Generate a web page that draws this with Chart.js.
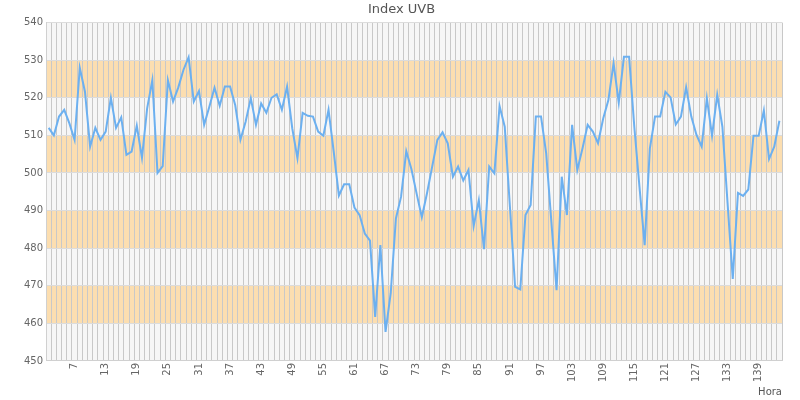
<!DOCTYPE html>
<html>
<head>
<meta charset="utf-8">
<script src="https://cdn.jsdelivr.net/npm/chart.js@4"></script>
<style>
  body { margin: 0; background: #fff; }
  #wrap { width: 800px; height: 400px; }
</style>
</head>
<body>
<div id="wrap"><canvas id="uvbChart"></canvas></div>
<script>
// hours on the x axis
var horas = [2, 3, 4, 5, 6, 7, 8, 9, 10, 11, 12, 13, 14, 15, 16, 17, 18, 19, 20, 21,
  22, 23, 24, 25, 26, 27, 28, 29, 30, 31, 32, 33, 34, 35, 36, 37, 38, 39, 40, 41,
  42, 43, 44, 45, 46, 47, 48, 49, 50, 51, 52, 53, 54, 55, 56, 57, 58, 59, 60, 61,
  62, 63, 64, 65, 66, 67, 68, 69, 70, 71, 72, 73, 74, 75, 76, 77, 78, 79, 80, 81,
  82, 83, 84, 85, 86, 87, 88, 89, 90, 91, 92, 93, 94, 95, 96, 97, 98, 99, 100, 101,
  102, 103, 104, 105, 106, 107, 108, 109, 110, 111, 112, 113, 114, 115, 116, 117, 118, 119, 120, 121,
  122, 123, 124, 125, 126, 127, 128, 129, 130, 131, 132, 133, 134, 135, 136, 137, 138, 139, 140, 141,
  142, 143];

// Index UVB readings
var indexUVB = [512, 510, 515, 516.8, 513.2, 508.8, 528, 521.6, 507, 512,
  508.8, 511, 520, 512, 514.8, 504.8, 505.7, 512.6, 504, 517.2,
  524.7, 500, 501.8, 524.7, 519, 522.7, 527.4, 530.8, 519, 521.8,
  512.8, 517.6, 522.7, 517.9, 523, 523, 518, 508.8, 513.6, 519.9,
  512.8, 518.5, 516, 520, 520.9, 516.8, 523, 511.9, 503.9, 516,
  515.2, 515, 511, 509.9, 516.8, 505.7, 494, 497, 497, 490.8,
  488.8, 483.9, 482, 461.7, 480.8, 457.7, 468, 487.9, 493.7, 505.8,
  501, 494.5, 488.2, 494.6, 501.7, 508.8, 510.8, 507.9, 499, 501.7,
  498, 500.8, 485.9, 492.8, 479.7, 501.7, 499.9, 517.8, 512.3, 491,
  469.7, 469, 488.8, 491.5, 515, 515, 505.2, 487, 468.8, 499,
  488.8, 512.8, 500.8, 506.5, 512.8, 511, 507.9, 514.5, 519.4, 529.2,
  518.7, 530.9, 530.9, 512.3, 496.3, 480.8, 506.5, 515, 515, 521.6,
  520.1, 512.9, 515, 522.8, 515, 510.1, 507, 519.9, 509.9, 520.8,
  512.3, 491.9, 471.8, 494.7, 493.9, 495.6, 509.9, 509.9, 516.6, 503.7,
  507, 513.9];

var yMin = 450, yMax = 540, yStep = 10;

Chart.defaults.font.family = "'DejaVu Sans', sans-serif";
Chart.defaults.font.size = 10;
Chart.defaults.color = '#666';

// alternating background bands behind the grid
var bandPlugin = {
  id: 'bands',
  beforeDraw: function (chart) {
    var ctx = chart.ctx, area = chart.chartArea, y = chart.scales.y;
    ctx.save();
    ctx.fillStyle = '#f6f6f6';
    ctx.fillRect(area.left, area.top, area.right - area.left, area.bottom - area.top);
    ctx.fillStyle = '#fcdeb0';
    for (var i = 0; i < y.ticks.length - 1; i++) {
      if (i % 2 === 1) {
        var top = y.getPixelForValue(y.ticks[i + 1].value);
        var bot = y.getPixelForValue(y.ticks[i].value);
        ctx.fillRect(area.left, top, area.right - area.left, bot - top);
      }
    }
    ctx.restore();
  }
};

var ctx = document.getElementById('uvbChart').getContext('2d');
var uvbChart = new Chart(ctx, {
  type: 'line',
  data: {
    labels: horas,
    datasets: [{
      label: 'Index UVB',
      data: indexUVB,
      borderColor: '#6cb0f0',
      borderWidth: 2,
      pointRadius: 0,
      fill: false,
      tension: 0
    }]
  },
  options: {
    responsive: true,
    maintainAspectRatio: false,
    animation: false,
    layout: { padding: { left: 21, right: 18, bottom: 2 } },
    plugins: {
      legend: { display: false },
      tooltip: { enabled: false },
      title: {
        display: true,
        text: 'Index UVB',
        color: '#555',
        font: { size: 13, weight: 'normal' },
        padding: { top: 2, bottom: 5 }
      }
    },
    scales: {
      x: {
        offset: true,
        grid: { offset: true, color: '#c8c8c8', drawTicks: false },
        border: { color: '#d0d0d0' },
        ticks: {
          autoSkip: false,
          minRotation: 90,
          maxRotation: 90,
          padding: 2,
          callback: function (value) {
            var lab = this.getLabelForValue(value);
            return (lab % 6 === 1) ? lab : '';
          }
        },
        title: { display: true, text: 'Hora', align: 'end', color: '#555', padding: { top: 2, bottom: 0 } }
      },
      y: {
        min: yMin,
        max: yMax,
        grid: { color: '#dcdcdc', drawTicks: false },
        border: { color: '#d0d0d0' },
        ticks: { stepSize: yStep, padding: 3 }
      }
    }
  },
  plugins: [bandPlugin]
});
</script>
</body>
</html>
